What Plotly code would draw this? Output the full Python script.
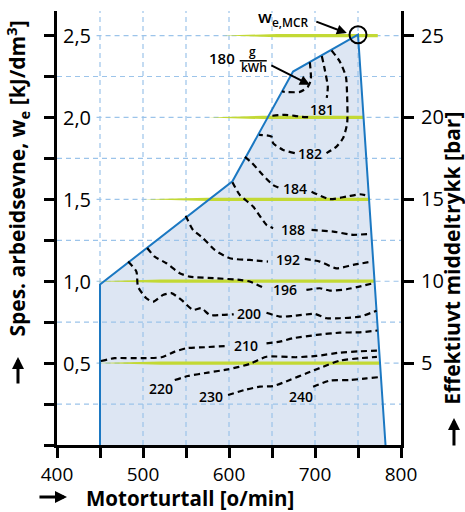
import plotly.graph_objects as go

# ---------------- data ----------------
rpm_ticks = [400, 450, 500, 550, 600, 650, 700, 750, 800]
rpm_labels = ["400", "", "500", "", "600", "", "700", "", "800"]
we_ticks = [0, 0.25, 0.5, 0.75, 1.0, 1.25, 1.5, 1.75, 2.0, 2.25, 2.5]
we_labels = ["", "", "0,5", "", "1,0", "", "1,5", "", "2,0", "", "2,5"]
pme_ticks = [5, 10, 15, 20, 25]
pme_labels = ["5", "10", "15", "20", "25"]

# operating envelope
env_rpm = [450, 450, 604, 674.5, 750, 782, 450]
env_we = [0, 0.98, 1.61, 2.28, 2.505, 0, 0]

# load lines (green)
load_we = [0.5, 1.0, 1.5, 2.0, 2.5]
load_start = [446, 446, 500, 576, 593]
load_end = [775, 769, 764, 757, 773]

# SFOC contours (g/kWh), None = gap for label
c180_rpm = [694.0, 695.2, 691.7, 682.4, 665.0, 661.5]
c180_we = [2.337, 2.230, 2.187, 2.156, 2.156, 2.160]
c181_rpm = [707.9, 711.4, 714.9, 713.7, None, 692.0, 684.7, 676.5, 664.9, 649.4]
c181_we = [2.375, 2.291, 2.187, 2.120, None, 2.002, 2.004, 2.010, 2.016, 2.010]
c182_rpm = [719.2, 728.9, 735.9, 737.4, 737.4, 732.7, 725.0, 713.4, None, 676.5, 662.9, 651.3, 649.4, 635.0]
c182_we = [2.410, 2.341, 2.250, 2.128, 1.965, 1.874, 1.822, 1.782, None, 1.782, 1.802, 1.843, 1.883, 1.894]
c184_rpm = [618.5, 626.5, 639.3, 651.0, 659.1, None, 696.0, 717.2, 736.7, 752.2, 762.0]
c184_we = [1.759, 1.723, 1.649, 1.588, 1.568, None, 1.547, 1.501, 1.517, 1.531, 1.521]
c188_rpm = [604.0, 612.5, 628.0, 643.6, 651.3, None, 696.0, 721.1, 738.5, 744.4, 763.0]
c188_we = [1.605, 1.527, 1.456, 1.344, 1.324, None, 1.313, 1.303, 1.287, 1.283, 1.289]
c192_rpm = [549.7, 558.2, 569.8, 583.4, 600.9, 624.1, 631.9, 645.4, None, 688.1, 705.6, 725.0, 744.4, 766.5]
c192_we = [1.399, 1.313, 1.263, 1.191, 1.140, 1.130, 1.126, 1.120, None, 1.136, 1.120, 1.079, 1.100, 1.120]
c196_rpm = [504.9, 513.6, 527.2, 542.7, 554.3, 585.4, 612.5, 624.1, 640.0, None, 690.0, 705.6, 717.3, 736.7, 767.5]
c196_we = [1.203, 1.150, 1.110, 1.049, 1.028, 1.018, 1.008, 0.998, 0.960, None, 0.947, 0.957, 0.943, 0.951, 0.987]
c200_rpm = [482.7, 492.3, 494.2, 503.9, 511.6, 523.2, 533.0, 544.7, 558.2, 567.9, 577.6, 591.2, 605.5, None,
            643.6, 659.1, 674.5, 699.8, 713.4, 728.9, 752.2, 771.6]
c200_we = [1.120, 1.059, 0.967, 0.896, 0.875, 0.916, 0.927, 0.886, 0.825, 0.835, 0.794, 0.794, 0.798, None,
           0.808, 0.784, 0.788, 0.800, 0.774, 0.774, 0.784, 0.820]
c210_rpm = [451.0, 467.0, 498.1, 521.4, 536.9, 550.5, 571.8, 598.5, None, 643.6, 659.1, 674.5, 701.8, 728.9, 752.2, 772.5]
c210_we = [0.513, 0.530, 0.530, 0.536, 0.570, 0.591, 0.597, 0.605, None, 0.621, 0.631, 0.652, 0.672, 0.686, 0.688, 0.699]
c220_rpm = [536.9, 552.3, 575.6, 598.9, 624.1, 643.6, 678.5, 701.8, 728.9, 752.0, 772.0]
c220_we = [0.397, 0.421, 0.442, 0.462, 0.495, 0.539, 0.536, 0.544, 0.564, 0.572, 0.576]
c230_rpm = [598.9, 618.3, 635.8, 651.3, 670.7, 690.1, 709.5, 728.9, 752.2, 772.0]
c230_we = [0.305, 0.336, 0.356, 0.360, 0.397, 0.438, 0.478, 0.515, 0.530, 0.538]
c240_rpm = [697.8, 717.2, 740.5, 759.9, 773.4]
c240_we = [0.356, 0.393, 0.397, 0.407, 0.414]

label_text = ["181", "182", "184", "188", "192", "196", "200", "210", "220", "230", "240"]
label_rpm = [707.9, 694.0, 677.0, 674.5, 668.7, 665.0, 623.2, 619.5, 521.3, 579.5, 683.5]
label_we = [2.046, 1.778, 1.564, 1.318, 1.130, 0.951, 0.800, 0.605, 0.346, 0.295, 0.299]

mcr_rpm, mcr_we = 750, 2.505

# ---------------- style ----------------
GRID = "#9cc4ea"
BLUE = "#1b78c2"
FILL = "#dde6f3"
GREEN = "#c3d934"
FONT = "Open Sans"

fig = go.Figure()

# envelope fill
fig.add_trace(go.Scatter(x=env_rpm, y=env_we, mode="lines", fill="toself",
                         fillcolor=FILL, line=dict(width=0), hoverinfo="skip"))

# grid lines (drawn above the fill)
y_top = 2.65
for xv in rpm_ticks[1:-1]:
    fig.add_trace(go.Scatter(x=[xv, xv], y=[0, y_top], mode="lines",
                             line=dict(color=GRID, width=1.2, dash="5px,4px"), hoverinfo="skip"))
for yv, lab in zip(we_ticks[1:], we_labels[1:]):
    x0 = 446 if lab else 400
    fig.add_trace(go.Scatter(x=[x0, 800], y=[yv, yv], mode="lines",
                             line=dict(color=GRID, width=1.2, dash="5px,4px"), hoverinfo="skip"))

# green load lines (tapered at the left end)
h = 0.010
for yv, xs, xe in zip(load_we, load_start, load_end):
    tp = min(0.35 * (xe - xs), 75)
    fig.add_trace(go.Scatter(x=[xs, xs + tp, xe, xe, xs + tp, xs],
                             y=[yv, yv + h, yv + h, yv - h, yv - h, yv],
                             mode="lines", fill="toself", fillcolor=GREEN,
                             line=dict(width=0), hoverinfo="skip"))

# envelope outline
fig.add_trace(go.Scatter(x=env_rpm[:-1], y=env_we[:-1], mode="lines",
                         line=dict(color=BLUE, width=2), hoverinfo="skip"))

# contours
for xs, ys in [(c180_rpm, c180_we), (c181_rpm, c181_we), (c182_rpm, c182_we), (c184_rpm, c184_we),
               (c188_rpm, c188_we), (c192_rpm, c192_we), (c196_rpm, c196_we), (c200_rpm, c200_we),
               (c210_rpm, c210_we), (c220_rpm, c220_we), (c230_rpm, c230_we), (c240_rpm, c240_we)]:
    fig.add_trace(go.Scatter(x=xs, y=ys, mode="lines", connectgaps=False,
                             line=dict(color="black", width=2.2, dash="6px,4px", shape="spline", smoothing=0.6),
                             hoverinfo="skip"))

# MCR circle
fig.add_trace(go.Scatter(x=[mcr_rpm], y=[mcr_we], mode="markers",
                         marker=dict(symbol="circle-open", size=17, color="black", line=dict(width=2)),
                         hoverinfo="skip"))

# secondary axis trace (invisible) for right axis
fig.add_trace(go.Scatter(x=[400], y=[0], yaxis="y2", mode="markers", marker=dict(opacity=0),
                         hoverinfo="skip"))

ann = []
# left tick labels placed inside the axis
for yv, lab in zip(we_ticks, we_labels):
    if lab:
        ann.append(dict(xref="paper", x=0, y=yv, text=lab, showarrow=False, xanchor="left",
                        yanchor="middle", xshift=4,
                        font=dict(family=FONT, size=20, color="black")))

for t, xv, yv in zip(label_text, label_rpm, label_we):
    ann.append(dict(x=xv, y=yv, text=t, showarrow=False,
                    font=dict(family=FONT, size=14, color="black", weight=600)))

# 180 g/kWh
ann.append(dict(x=592.1, y=2.361, text="180", showarrow=False,
                font=dict(family=FONT, size=15, color="black", weight=600)))
ann.append(dict(x=627.6, y=2.405, text="g", showarrow=False,
                font=dict(family=FONT, size=12, color="black", weight=600)))
ann.append(dict(x=628.5, y=2.303, text="kWh", showarrow=False,
                font=dict(family=FONT, size=12, color="black", weight=600)))
ann.append(dict(x=694, y=2.2, ax=-40, ay=-20, text="", showarrow=True,
                arrowhead=2, arrowsize=1, arrowwidth=2, arrowcolor="black"))
# w_e,MCR
ann.append(dict(x=662.8, y=2.61, text="w<sub>e,MCR</sub>", showarrow=False,
                font=dict(family=FONT, size=17, color="black", weight=600)))
ann.append(dict(x=737, y=2.515, ax=-32, ay=-12, text="", showarrow=True,
                arrowhead=2, arrowsize=1, arrowwidth=2, arrowcolor="black"))

# axis titles
TF = dict(family=FONT, size=21, color="black", weight=700)
TFX = dict(family=FONT, size=20.5, color="black", weight=700)
ann.append(dict(xref="paper", yref="paper", x=0.386, y=-0.1221, text="Motorturtall [o/min]",
                showarrow=False, font=TFX, xanchor="center", yanchor="middle"))
ann.append(dict(xref="paper", yref="paper", x=0.029, y=-0.1198, ax=-29, ay=0, text="",
                showarrow=True, arrowhead=2, arrowsize=0.8, arrowwidth=3, arrowcolor="black"))
ann.append(dict(xref="paper", yref="paper", x=-0.116, y=0.614, textangle=-90,
                text="Spes. arbeidsevne, w<sub>e</sub> [kJ/dm<sup>3</sup>]",
                showarrow=False, font=TF, xanchor="center", yanchor="middle"))
ann.append(dict(xref="paper", yref="paper", x=-0.1134, y=0.2028, ax=0, ay=28, text="",
                showarrow=True, arrowhead=2, arrowsize=0.8, arrowwidth=3, arrowcolor="black"))
ann.append(dict(xref="paper", yref="paper", x=1.148, y=0.431, textangle=-90,
                text="Effektiuvt middeltrykk [bar]",
                showarrow=False, font=TF, xanchor="center", yanchor="middle"))
ann.append(dict(xref="paper", yref="paper", x=1.154, y=0.0622, ax=0, ay=29, text="",
                showarrow=True, arrowhead=2, arrowsize=0.8, arrowwidth=3, arrowcolor="black"))

shapes = [dict(type="line", x0=612.5, x1=643.9, y0=2.346, y1=2.346,
               line=dict(color="black", width=1.5))]

fig.update_layout(
    width=465, height=512,
    margin=dict(l=57, r=64, t=11, b=67),
    paper_bgcolor="white", plot_bgcolor="white",
    showlegend=False, hovermode=False,
    annotations=ann, shapes=shapes,
    font=dict(family=FONT, size=20, color="black"),
    xaxis=dict(range=[400, 800], tickvals=rpm_ticks, ticktext=rpm_labels,
               showgrid=False, zeroline=False, showline=True, linewidth=3, linecolor="black",
               ticks="outside", ticklen=10, tickwidth=3, tickcolor="black", ticklabelstandoff=0,
               tickfont=dict(family=FONT, size=19, color="black")),
    yaxis=dict(range=[0, 2.65], tickvals=we_ticks, ticktext=[""] * len(we_ticks),
               showgrid=False, zeroline=False, showline=True, linewidth=3, linecolor="black",
               ticks="outside", ticklen=10, tickwidth=3, tickcolor="black"),
    yaxis2=dict(range=[0, 26.5], overlaying="y", side="right", anchor="x",
                tickvals=pme_ticks, ticktext=pme_labels,
                showgrid=False, zeroline=False, showline=True, linewidth=3, linecolor="black",
                ticks="outside", ticklen=10, tickwidth=3, tickcolor="black", ticklabelstandoff=3,
                tickfont=dict(family=FONT, size=20, color="black")),
)

fig.write_html("out.html")
